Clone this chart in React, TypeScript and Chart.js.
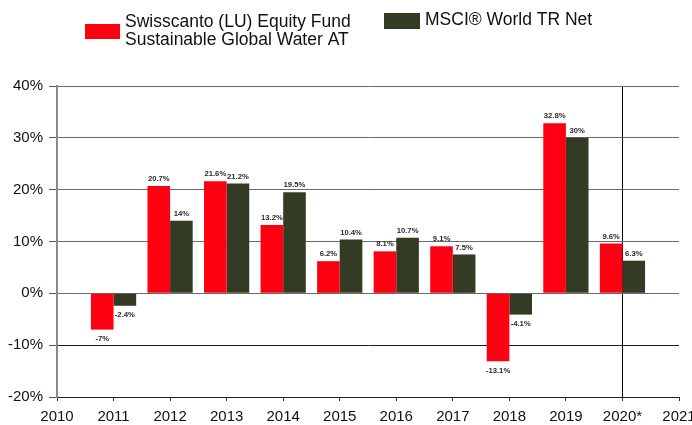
import React, { useEffect, useRef } from "react";
import { Chart, registerables } from "chart.js";

Chart.register(...registerables);

const years = ["2010", "2011", "2012", "2013", "2014", "2015", "2016", "2017", "2018", "2019", "2020*", "2021"];
const fundValues = [null, -7, 20.7, 21.6, 13.2, 6.2, 8.1, 9.1, -13.1, 32.8, 9.6, null];
const msciValues = [null, -2.4, 14, 21.2, 19.5, 10.4, 10.7, 7.5, -4.1, 30, 6.3, null];
const fundName = ["Swisscanto (LU) Equity Fund", "Sustainable Global Water AT"];
const msciName = "MSCI® World TR Net";
const RED = "#ff0012";
const DARK = "#343b24";
const FONT = "'Liberation Sans', Arial, Helvetica, sans-serif";

const labelPlugin = {
  id: "valueLabels",
  afterDatasetsDraw(chart: any) {
    const ctx = chart.ctx;
    ctx.save();
    ctx.font = `bold 7.7px ${FONT}`;
    ctx.fillStyle = "#2a2a2a";
    ctx.textAlign = "center";
    ctx.textBaseline = "middle";
    chart.data.datasets.forEach((ds: any, di: number) => {
      const meta = chart.getDatasetMeta(di);
      meta.data.forEach((el: any, i: number) => {
        const v = ds.data[i];
        if (v === null || v === undefined) return;
        const y = v >= 0 ? el.y - 7 : el.y + 9.5;
        ctx.fillText(`${v}%`, el.x, y);
      });
    });
    ctx.restore();
  },
};

const legendPlugin = {
  id: "customLegend",
  afterDraw(chart: any) {
    const ctx = chart.ctx;
    ctx.save();
    ctx.font = `17.5px ${FONT}`;
    ctx.textAlign = "left";
    ctx.textBaseline = "alphabetic";
    ctx.fillStyle = RED;
    ctx.fillRect(85, 24, 35, 15);
    ctx.fillStyle = "#111111";
    ctx.fillText(fundName[0], 125, 27);
    ctx.fillText(fundName[1], 125, 45);
    ctx.fillStyle = DARK;
    ctx.fillRect(384, 13, 36, 16);
    ctx.fillStyle = "#111111";
    ctx.fillText(msciName, 425, 25);
    ctx.restore();
  },
};

export default function App() {
  const ref = useRef<HTMLCanvasElement>(null);
  useEffect(() => {
    if (!ref.current) return;
    const chart = new Chart(ref.current, {
      type: "bar",
      data: {
        labels: years,
        datasets: [
          { label: fundName.join(" "), data: fundValues as any, backgroundColor: RED, borderWidth: 0, categoryPercentage: 0.8, barPercentage: 1 },
          { label: msciName, data: msciValues as any, backgroundColor: DARK, borderWidth: 0, categoryPercentage: 0.8, barPercentage: 1 },
        ],
      },
      options: {
        responsive: false,
        animation: false,
        events: [],
        layout: { padding: { top: 86, right: 13, left: 0, bottom: 0 } },
        plugins: { legend: { display: false }, tooltip: { enabled: false } },
        scales: {
          x: {
            offset: false,
            grid: {
              offset: false,
              color: (c: any) => (c.index === 10 ? "#000000" : "rgba(0,0,0,0)"),
              tickColor: "#333333",
              tickLength: 4,
              lineWidth: 1,
            },
            border: { color: "#222222", width: 1 },
            ticks: {
              color: "#111111",
              font: { family: FONT, size: 15 },
              maxRotation: 0,
              autoSkip: false,
              padding: 7,
            },
            afterFit: (s: any) => {
              s.height = 28;
              s.paddingLeft = 0;
              s.paddingRight = 0;
            },
          },
          y: {
            min: -20,
            max: 40,
            grid: {
              color: (c: any) => (c.tick && c.tick.value < 0 ? "#1a1a1a" : "#6a6a6a"),
              tickColor: "#555555",
              tickLength: 8,
              lineWidth: 1,
            },
            border: { color: "#888888", width: 2 },
            ticks: {
              stepSize: 10,
              color: "#111111",
              font: { family: FONT, size: 15 },
              padding: 6,
              callback: (v: any) => `${v}%`,
            },
            afterFit: (s: any) => {
              s.width = 57;
              s.paddingTop = 0;
              s.paddingBottom = 0;
            },
          },
        },
      },
      plugins: [labelPlugin, legendPlugin],
    });
    return () => chart.destroy();
  }, []);
  return (
    <div style={{ position: "fixed", left: 0, top: 0, width: 692, height: 425, background: "#ffffff" }}>
      <canvas ref={ref} width={692} height={425} style={{ display: "block" }} />
    </div>
  );
}
